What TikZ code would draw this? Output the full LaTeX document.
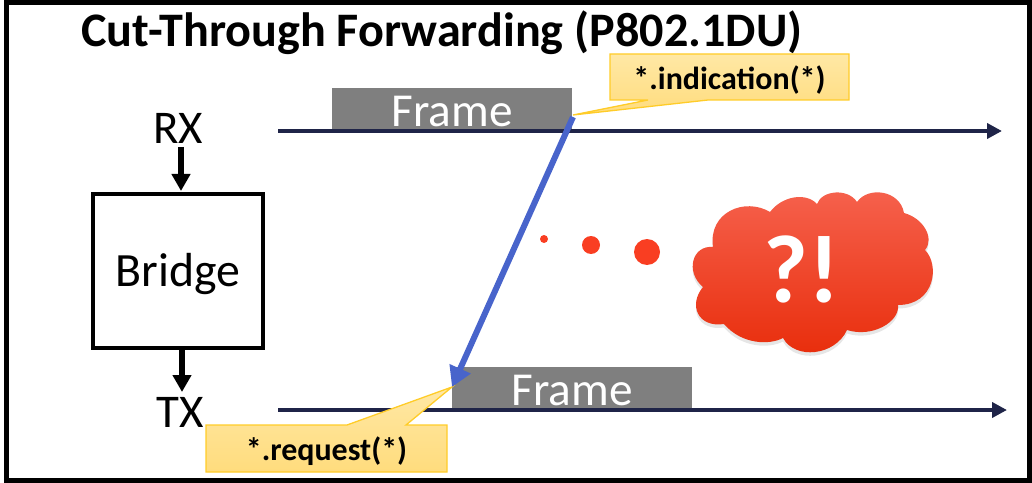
\documentclass[tikz,border=0pt]{standalone}
\usepackage{fontspec}
\setmainfont{Carlito}
\usetikzlibrary{arrows.meta,shadows}

\definecolor{navyline}{RGB}{31,36,72}
\definecolor{forwardblue}{RGB}{72,100,203}
\definecolor{framegray}{RGB}{127,127,127}
\definecolor{noteedge}{RGB}{255,204,40}
\definecolor{notetop}{RGB}{255,232,165}
\definecolor{notebottom}{RGB}{255,220,125}
\definecolor{cloudtop}{RGB}{246,98,78}
\definecolor{cloudmid}{RGB}{250,56,26}
\definecolor{cloudbottom}{RGB}{232,44,10}

\def \px {0.02cm}

\tikzset{
  framebox/.style={fill=framegray, text=white, inner sep=0pt, minimum width=240*\px, minimum height=43*\px, text height=19.5pt, text depth=0pt, font=\fontsize{26.9pt}{30pt}\selectfont},
  timeline/.style={navyline, line width=4*\px, -{Triangle[length=15*\px, width=15*\px]}},
  portarrow/.style={line width=6*\px, -{Triangle[length=17*\px, width=18*\px]}},
  portlabel/.style={inner sep=0pt, font=\fontsize{26.7pt}{30pt}\selectfont},
  notebox/.style={draw=noteedge, line width=1.3*\px, top color=notetop, bottom color=notebottom, line join=miter},
  notetext/.style={inner sep=0pt, font=\bfseries\fontsize{18.2pt}{20pt}\selectfont},
  reddot/.style={fill=cloudmid!85!cloudtop}
}

\begin{document}
\begin{tikzpicture}[x=\px, y=-\px]
    \useasboundingbox (0,0) rectangle (1032,483);

    \coordinate (RXstart) at (278,131);
    \coordinate (RXend) at (1002,131);
    \coordinate (TXstart) at (278,410);
    \coordinate (TXend) at (1007,410);
    \coordinate (indicationtip) at (573,115);
    \coordinate (requesttip) at (452,387);
    \coordinate (forwardstart) at (573,117);

    % outer frame
    \draw[line width=5*\px] (6,2.5) rectangle (1029.5,480.5);

    \node[anchor=base west, inner sep=0pt, font=\bfseries\fontsize{27.4pt}{30pt}\selectfont] (title) at (81,46.5) {Cut-Through Forwarding (P802.1DU)};

    \node[framebox] (frameRX) at (452,109.5) {Frame};
    \node[framebox] (frameTX) at (572,388.5) {Frame};
    \draw[timeline] (RXstart) -- (RXend);
    \draw[timeline] (TXstart) -- (TXend);

    % bridge and ports
    \node[draw, line width=4*\px, inner sep=0pt, minimum width=170*\px, minimum height=154*\px, text height=18pt, text depth=0pt, font=\fontsize{27.2pt}{30pt}\selectfont] (bridge) at (178,271) {Bridge};
    \node[portlabel] (RX) at (178,128) {RX};
    \node[portlabel] (TX) at (180,412) {TX};
    \draw[portarrow] (181,147) -- (181,191);
    \draw[portarrow] (182,350) -- (182,392);

    % notes
    \draw[notebox] (610,54) -- (849,54) -- (849,100) -- (708,100) -- (indicationtip) -- (648,100) -- (610,100) -- cycle;
    \node[notetext] (indication) at (729.5,80) {*.indication(*)};
    \draw[notebox] (206,425) -- (347,425) -- (requesttip) -- (406,425) -- (447,425) -- (447,472) -- (206,472) -- cycle;
    \node[notetext] (request) at (326.5,451) {*.request(*)};

    \draw[forwardblue, line width=6*\px, -{Triangle[length=20*\px, width=22*\px]}] (forwardstart) -- (requesttip);

    % dots and cloud
    \fill[reddot] (544,239) circle (4);
    \fill[reddot] (591,245) circle (9);
    \fill[reddot] (647,252) circle (13);

    \path[middle color=cloudmid, top color=cloudtop, bottom color=cloudbottom, drop shadow={shadow xshift=0pt, shadow yshift=-2pt, opacity=0.2}]
      (713,247) .. controls (708,212) and (745,197) .. (770,212)
      .. controls (782,196) and (806,192) .. (817,204)
      .. controls (822,190) and (848,188) .. (857,202)
      .. controls (868,186) and (900,190) .. (904,213)
      .. controls (923,218) and (935,238) .. (925,250)
      .. controls (940,265) and (935,305) .. (898,305)
      .. controls (900,322) and (872,338) .. (847,330)
      .. controls (835,356) and (795,360) .. (783,338)
      .. controls (770,345) and (742,345) .. (724,324)
      .. controls (698,328) and (688,305) .. (703,287)
      .. controls (685,272) and (692,245) .. (713,247) -- cycle;
    \node[inner sep=0pt, text=white, font=\bfseries\fontsize{55pt}{58pt}\selectfont] (surprise) at (802,269) {?!};

\end{tikzpicture}
\end{document}
